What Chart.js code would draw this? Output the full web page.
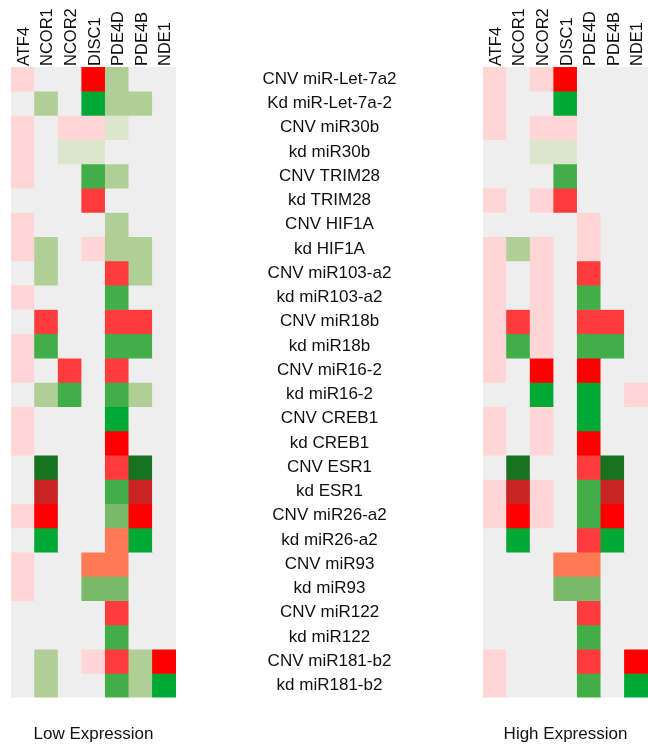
<!DOCTYPE html>
<html>
<head>
<meta charset="utf-8">
<script src="https://cdn.jsdelivr.net/npm/chart.js@4.4.0/dist/chart.umd.min.js"></script>
<style>
  body { margin: 0; background: #fff; }
  #wrap { position: relative; width: 648px; height: 746px; }
  canvas { position: absolute; top: 0; }
  #lowChart { left: 0; }
  #highChart { left: 483px; }
</style>
</head>
<body>
<div id="wrap">
  <canvas id="lowChart" width="483" height="746"></canvas>
  <canvas id="highChart" width="165" height="746"></canvas>
</div>
<script>
// gene columns (top labels)
const genes = ['ATF4', 'NCOR1', 'NCOR2', 'DISC1', 'PDE4D', 'PDE4B', 'NDE1'];

// rows, top to bottom
const rowLabels = [
  'CNV miR-Let-7a2', 'Kd miR-Let-7a-2', 'CNV miR30b', 'kd miR30b',
  'CNV TRIM28', 'kd TRIM28', 'CNV HIF1A', 'kd HIF1A',
  'CNV miR103-a2', 'kd miR103-a2', 'CNV miR18b', 'kd miR18b',
  'CNV miR16-2', 'kd miR16-2', 'CNV CREB1', 'kd CREB1',
  'CNV ESR1', 'kd ESR1', 'CNV miR26-a2', 'kd miR26-a2',
  'CNV miR93', 'kd miR93', 'CNV miR122', 'kd miR122',
  'CNV miR181-b2', 'kd miR181-b2'
];

// levels: + = red side, - = green side, 0 = no change
const lowExpression = [
  [1, 0, 0, 5, -2, 0, 0],
  [0, -2, 0, -5, -2, -2, 0],
  [1, 0, 1, 1, -1, 0, 0],
  [1, 0, -1, -1, 0, 0, 0],
  [1, 0, 0, -4, -2, 0, 0],
  [0, 0, 0, 4, 0, 0, 0],
  [1, 0, 0, 0, -2, 0, 0],
  [1, -2, 0, 1, -2, -2, 0],
  [0, -2, 0, 0, 4, -2, 0],
  [1, 0, 0, 0, -4, 0, 0],
  [0, 4, 0, 0, 4, 4, 0],
  [1, -4, 0, 0, -4, -4, 0],
  [1, 0, 4, 0, 4, 0, 0],
  [0, -2, -4, 0, -4, -2, 0],
  [1, 0, 0, 0, -5, 0, 0],
  [1, 0, 0, 0, 5, 0, 0],
  [0, -6, 0, 0, 4, -6, 0],
  [0, 6, 0, 0, -4, 6, 0],
  [1, 5, 0, 0, -3, 5, 0],
  [0, -5, 0, 0, 3, -5, 0],
  [1, 0, 0, 3, 3, 0, 0],
  [1, 0, 0, -3, -3, 0, 0],
  [0, 0, 0, 0, 4, 0, 0],
  [0, 0, 0, 0, -4, 0, 0],
  [0, -2, 0, 1, 4, -2, 5],
  [0, -2, 0, 0, -4, -2, -5]
];

const highExpression = [
  [1, 0, 1, 5, 0, 0, 0],
  [1, 0, 0, -5, 0, 0, 0],
  [1, 0, 1, 1, 0, 0, 0],
  [0, 0, -1, -1, 0, 0, 0],
  [0, 0, 0, -4, 0, 0, 0],
  [1, 0, 1, 4, 0, 0, 0],
  [0, 0, 0, 0, 1, 0, 0],
  [1, -2, 1, 0, 1, 0, 0],
  [1, 0, 1, 0, 4, 0, 0],
  [1, 0, 1, 0, -4, 0, 0],
  [1, 4, 1, 0, 4, 4, 0],
  [1, -4, 1, 0, -4, -4, 0],
  [1, 0, 5, 0, 5, 0, 0],
  [0, 0, -5, 0, -5, 0, 1],
  [1, 0, 1, 0, -5, 0, 0],
  [1, 0, 1, 0, 5, 0, 0],
  [0, -6, 0, 0, 4, -6, 0],
  [1, 6, 1, 0, -4, 6, 0],
  [1, 5, 1, 0, -4, 5, 0],
  [0, -5, 0, 0, 4, -5, 0],
  [0, 0, 0, 3, 3, 0, 0],
  [0, 0, 0, -3, -3, 0, 0],
  [0, 0, 0, 0, 4, 0, 0],
  [0, 0, 0, 0, -4, 0, 0],
  [1, 0, 0, 0, 4, 0, 5],
  [1, 0, 0, 0, -4, 0, -5]
];

const palette = {
  '-6': '#187321', '-5': '#00a933', '-4': '#41ae48', '-3': '#79ba68',
  '-2': '#b0cf96', '-1': '#dce6cc', '0': '#eeeeee',
  '1': '#ffd5d5', '3': '#ff7a55', '4': '#ff3b3b', '5': '#ff0000', '6': '#c82222'
};

const FONT = '"Liberation Sans", Arial, sans-serif';
Chart.defaults.font.family = FONT;
Chart.defaults.color = '#111';

// gene names, rotated, standing on top of each column
const geneNamePlugin = {
  id: 'geneNames',
  afterDraw(chart) {
    const { ctx, chartArea, scales } = chart;
    ctx.save();
    ctx.font = '16.5px ' + FONT;
    ctx.fillStyle = '#111';
    ctx.textAlign = 'left';
    ctx.textBaseline = 'alphabetic';
    genes.forEach((g, i) => {
      ctx.save();
      ctx.translate(scales.x.getPixelForValue(i) + 6, chartArea.top - 1);
      ctx.rotate(-Math.PI / 2);
      ctx.fillText(g, 0, 0);
      ctx.restore();
    });
    ctx.restore();
  }
};

// row names sit in the gap between the two grids
const rowNamePlugin = {
  id: 'rowNames',
  afterDraw(chart) {
    const { ctx, chartArea, scales } = chart;
    const cx = chartArea.right + (chart.width - chartArea.right) / 2;
    ctx.save();
    ctx.font = '17px ' + FONT;
    ctx.fillStyle = '#111';
    ctx.textAlign = 'center';
    ctx.textBaseline = 'middle';
    rowLabels.forEach((name, i) => {
      ctx.fillText(name, cx, scales.y.getPixelForValue(i + 0.5));
    });
    ctx.restore();
  }
};

function heatmap(canvasId, levels, title, padding, plugins) {
  // one stacked dataset per row, each cell one unit tall
  const datasets = levels.map((row, i) => ({
    label: rowLabels[i],
    data: genes.map(() => 1),
    backgroundColor: row.map(v => palette[v]),
    borderWidth: 0,
    barPercentage: 1,
    categoryPercentage: 1
  }));
  return new Chart(document.getElementById(canvasId), {
    type: 'bar',
    data: { labels: genes, datasets },
    plugins: [geneNamePlugin].concat(plugins),
    options: {
      responsive: false,
      animation: false,
      devicePixelRatio: 1,
      layout: { padding },
      plugins: {
        legend: { display: false },
        tooltip: { enabled: false },
        title: {
          display: true,
          text: title,
          position: 'bottom',
          font: { size: 17, weight: 'normal' },
          color: '#111',
          padding: { top: 27, bottom: 1 }
        }
      },
      scales: {
        x: { stacked: true, display: false },
        y: {
          stacked: true,
          reverse: true,
          min: 0,
          max: rowLabels.length,
          display: false
        }
      }
    }
  });
}

heatmap('lowChart', lowExpression, 'Low Expression', { left: 11, right: 307, top: 67, bottom: 0 }, [rowNamePlugin]);
heatmap('highChart', highExpression, 'High Expression', { left: 0, right: 0, top: 67, bottom: 0 }, []);
</script>
</body>
</html>
